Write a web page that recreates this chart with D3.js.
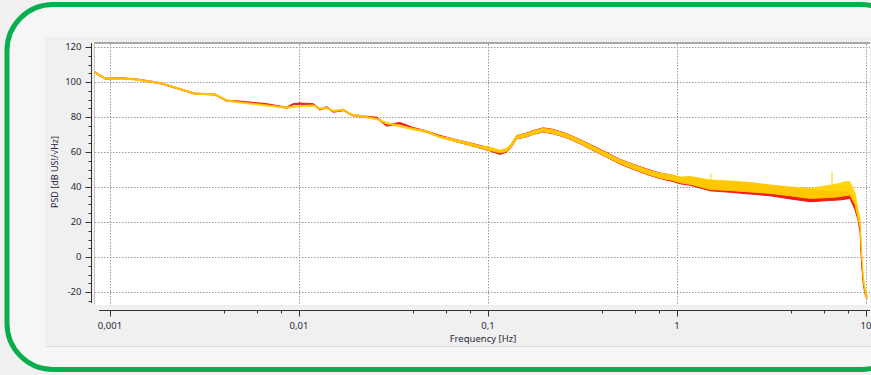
<!DOCTYPE html>
<html>
<head>
<meta charset="utf-8">
<script src="https://cdn.jsdelivr.net/npm/d3@7"></script>
<style>
  html, body { margin: 0; padding: 0; background: #f1f1f1; }
  svg { display: block; font-family: "Noto Sans", "Open Sans", sans-serif; }
</style>
</head>
<body>
<svg id="chart" width="871" height="375"></svg>
<script>
// frequency points (Hz)
const freq = [0.000833, 0.000941, 0.00115, 0.00135, 0.00163, 0.00188, 0.00235, 0.00282, 0.0036, 0.00414,
  0.00487, 0.00675, 0.00861, 0.00933, 0.0101, 0.0119, 0.0129, 0.0140, 0.0152, 0.0172,
  0.0190, 0.0219, 0.0258, 0.0291, 0.0342, 0.0403, 0.0474, 0.0557, 0.0655, 0.0771,
  0.0907, 0.1025, 0.1157, 0.1256, 0.1334, 0.1418, 0.160, 0.174, 0.196, 0.222,
  0.261, 0.307, 0.361, 0.425, 0.499, 0.587, 0.692, 0.813, 0.938, 1.04,
  1.17, 1.50, 1.91, 2.43, 3.10, 3.96, 5.06, 6.45, 7.28, 7.74,
  8.22, 8.75, 9.08, 9.30, 9.49, 9.68, 9.88, 10.09];

// red series: lower / upper edge of the noisy trace (dB)
const redLo = [105.0, 101.7, 101.8, 101.3, 100.0, 98.8, 95.6, 93.0, 92.6, 89.0,
  88.5, 87.0, 85.0, 87.0, 87.3, 86.9, 84.0, 85.2, 82.7, 83.6,
  80.8, 79.8, 79.1, 74.8, 76.0, 73.1, 71.2, 68.5, 66.3, 64.3,
  62.2, 60.6, 58.6, 60.0, 63.0, 67.5, 68.6, 70.1, 71.4, 70.4,
  68.1, 64.7, 60.8, 57.0, 53.1, 50.1, 47.2, 44.8, 43.3, 41.8,
  41.0, 37.8, 37.0, 36.0, 35.0, 33.2, 31.6, 32.3, 32.6, 33.0,
  33.5, 27.0, 21.0, 14.0, -5.0, -16.0, -21.0, -24.0];
const redHi = [105.8, 102.4, 102.4, 101.9, 100.6, 99.4, 96.2, 93.6, 93.2, 89.6,
  89.1, 87.6, 85.6, 87.7, 88.0, 87.6, 84.7, 85.9, 83.4, 84.3,
  81.5, 80.6, 79.9, 75.6, 76.9, 74.0, 72.1, 69.5, 67.5, 65.7,
  63.8, 62.4, 60.4, 61.8, 64.8, 69.4, 70.8, 72.3, 73.8, 72.9,
  70.5, 67.1, 63.4, 59.7, 55.8, 53.0, 50.3, 48.0, 46.8, 45.4,
  45.6, 43.6, 43.0, 42.2, 40.8, 39.6, 38.6, 37.5, 37.0, 37.5,
  36.2, 32.0, 25.0, 18.0, -2.0, -13.5, -19.0, -22.0];

// yellow series
const yelLo = [105.0, 101.8, 101.7, 101.2, 100.0, 98.9, 95.7, 93.0, 92.7, 89.1,
  88.0, 86.3, 85.0, 85.5, 85.8, 86.2, 84.5, 84.7, 83.2, 83.7,
  80.9, 79.9, 78.4, 76.1, 74.4, 72.6, 71.1, 68.1, 66.3, 64.4,
  62.3, 60.9, 59.6, 60.3, 63.1, 67.6, 68.7, 70.2, 71.6, 70.6,
  68.3, 64.9, 61.0, 57.2, 53.4, 50.4, 47.5, 45.1, 43.9, 42.4,
  41.6, 38.6, 38.0, 37.2, 36.4, 35.0, 33.5, 34.0, 34.5, 35.0,
  35.5, 30.0, 22.0, 17.0, 0.0, -14.0, -20.0, -24.0];
const yelHi = [105.8, 102.5, 102.3, 101.8, 100.6, 99.5, 96.3, 93.6, 93.3, 89.8,
  88.6, 86.9, 85.6, 86.1, 86.5, 86.9, 85.2, 85.4, 83.9, 84.4,
  81.6, 80.6, 79.1, 76.9, 75.2, 73.5, 72.1, 69.0, 67.4, 65.6,
  63.6, 62.6, 61.1, 62.0, 64.9, 69.4, 70.6, 72.1, 73.6, 72.6,
  70.3, 66.9, 63.1, 59.4, 55.6, 52.8, 50.0, 47.8, 47.0, 45.6,
  46.0, 44.0, 43.4, 42.6, 41.2, 40.0, 39.2, 41.0, 42.1, 43.0,
  43.0, 36.6, 27.0, 22.0, 3.0, -11.0, -17.5, -21.5];

// single-bin spikes on the yellow trace
const spikeFreq = [1.51, 6.61];
const spikeBase = [43.5, 41.0];
const spikeTop = [48.0, 48.6];

const xTicks = [0.001, 0.01, 0.1, 1, 10];
const xTickLabels = ['0,001', '0,01', '0,1', '1', '10'];
const yTicks = [-20, 0, 20, 40, 60, 80, 100, 120];

const svg = d3.select('#chart');

// outer card with green rounded border
svg.append('rect')
  .attr('x', 7).attr('y', 4.5)
  .attr('width', 900).attr('height', 365)
  .attr('rx', 46).attr('ry', 46)
  .attr('fill', '#f6f6f6')
  .attr('stroke', '#0aae4f')
  .attr('stroke-width', 5);

// chart panel
svg.append('rect')
  .attr('x', 45).attr('y', 37)
  .attr('width', 840).attr('height', 309)
  .attr('fill', '#f0f0f0');
svg.append('line')
  .attr('x1', 45).attr('x2', 871)
  .attr('y1', 346.5).attr('y2', 346.5)
  .attr('stroke', '#dedede');

const plot = { left: 94, top: 43, right: 870, bottom: 305 };

svg.append('rect')
  .attr('x', plot.left).attr('y', plot.top)
  .attr('width', plot.right - plot.left).attr('height', plot.bottom - plot.top)
  .attr('fill', '#fff');
svg.append('line')
  .attr('x1', plot.left).attr('x2', plot.right)
  .attr('y1', plot.top).attr('y2', plot.top)
  .attr('stroke', '#a8a8a8').attr('stroke-width', 2);
svg.append('line')
  .attr('x1', plot.left + 0.5).attr('x2', plot.left + 0.5)
  .attr('y1', plot.top).attr('y2', plot.bottom)
  .attr('stroke', '#c8c8c8');

const x = d3.scaleLog().domain([0.001, 10]).range([110, 866]);
const y = d3.scaleLinear().domain([-20, 120]).range([292, 47]);

// dotted grid
const grid = svg.append('g').attr('stroke', '#9a9a9a').attr('stroke-dasharray', '1.5,1.5');
grid.selectAll('.gx').data(xTicks).enter().append('line')
  .attr('x1', d => Math.round(x(d)) + 0.5).attr('x2', d => Math.round(x(d)) + 0.5)
  .attr('y1', plot.top + 1).attr('y2', plot.bottom);
grid.selectAll('.gy').data(yTicks).enter().append('line')
  .attr('x1', plot.left + 1).attr('x2', plot.right)
  .attr('y1', d => Math.round(y(d)) + 0.5).attr('y2', d => Math.round(y(d)) + 0.5);

// y axis
const yAxis = svg.append('g').attr('transform', 'translate(91.5,0)');
yAxis.append('line').attr('y1', plot.top).attr('y2', 303).attr('stroke', '#333');
yAxis.selectAll('.minor').data(d3.range(-25, 121, 5)).enter().append('line')
  .attr('x1', d => d % 20 === 0 ? -6 : -3).attr('x2', 0)
  .attr('y1', d => Math.round(y(d)) + 0.5).attr('y2', d => Math.round(y(d)) + 0.5)
  .attr('stroke', '#333');
yAxis.selectAll('text').data(yTicks).enter().append('text')
  .attr('x', -10).attr('y', d => y(d)).attr('dy', '0.35em')
  .attr('text-anchor', 'end').attr('font-size', 9.5).attr('fill', '#2a2a3a')
  .text(d => d);

svg.append('text')
  .attr('transform', 'translate(58,172) rotate(-90)')
  .attr('text-anchor', 'middle').attr('font-size', 9).attr('fill', '#2a2a3a')
  .text('PSD [dB US!/√Hz]');

// x axis
const xAxis = svg.append('g').attr('transform', 'translate(0,310.5)');
xAxis.append('line').attr('x1', 99).attr('x2', plot.right).attr('stroke', '#333');
const minors = [];
[0.001, 0.01, 0.1, 1].forEach(dec => [4, 6, 8].forEach(m => minors.push(dec * m)));
xAxis.selectAll('.mt').data(minors).enter().append('line')
  .attr('x1', d => Math.round(x(d)) + 0.5).attr('x2', d => Math.round(x(d)) + 0.5)
  .attr('y1', 0).attr('y2', 3).attr('stroke', '#333');
xAxis.selectAll('.Mt').data(xTicks).enter().append('line')
  .attr('x1', d => Math.round(x(d)) + 0.5).attr('x2', d => Math.round(x(d)) + 0.5)
  .attr('y1', 0).attr('y2', 6).attr('stroke', '#333');
xAxis.selectAll('text').data(xTicks).enter().append('text')
  .attr('x', d => x(d)).attr('y', 18)
  .attr('text-anchor', 'middle').attr('font-size', 9.5).attr('fill', '#2a2a3a')
  .text((d, i) => xTickLabels[i]);
svg.append('text')
  .attr('x', 483).attr('y', 342)
  .attr('text-anchor', 'middle').attr('font-size', 9.5).attr('fill', '#2a2a3a')
  .text('Frequency [Hz]');

// traces
const clip = svg.append('clipPath').attr('id', 'clip').append('rect')
  .attr('x', plot.left).attr('y', plot.top).attr('width', plot.right - plot.left).attr('height', plot.bottom - plot.top);

function band(lo, hi) {
  return d3.area()
    .x((d, i) => x(freq[i]))
    .y0((d, i) => y(lo[i]))
    .y1((d, i) => y(hi[i]))(freq);
}

const traces = svg.append('g').attr('clip-path', 'url(#clip)');
traces.append('path')
  .attr('d', band(redLo, redHi))
  .attr('fill', '#f41a16').attr('stroke', '#f41a16').attr('stroke-width', 1);
traces.append('path')
  .attr('d', band(yelLo, yelHi))
  .attr('fill', '#ffd200').attr('stroke', '#ffd200').attr('stroke-width', 1)
  .attr('opacity', 0.95);
traces.selectAll('.spike').data(spikeFreq).enter().append('line')
  .attr('x1', d => x(d)).attr('x2', d => x(d))
  .attr('y1', (d, i) => y(spikeBase[i])).attr('y2', (d, i) => y(spikeTop[i]))
  .attr('stroke', '#ffd200').attr('stroke-width', 1);
</script>
</body>
</html>
